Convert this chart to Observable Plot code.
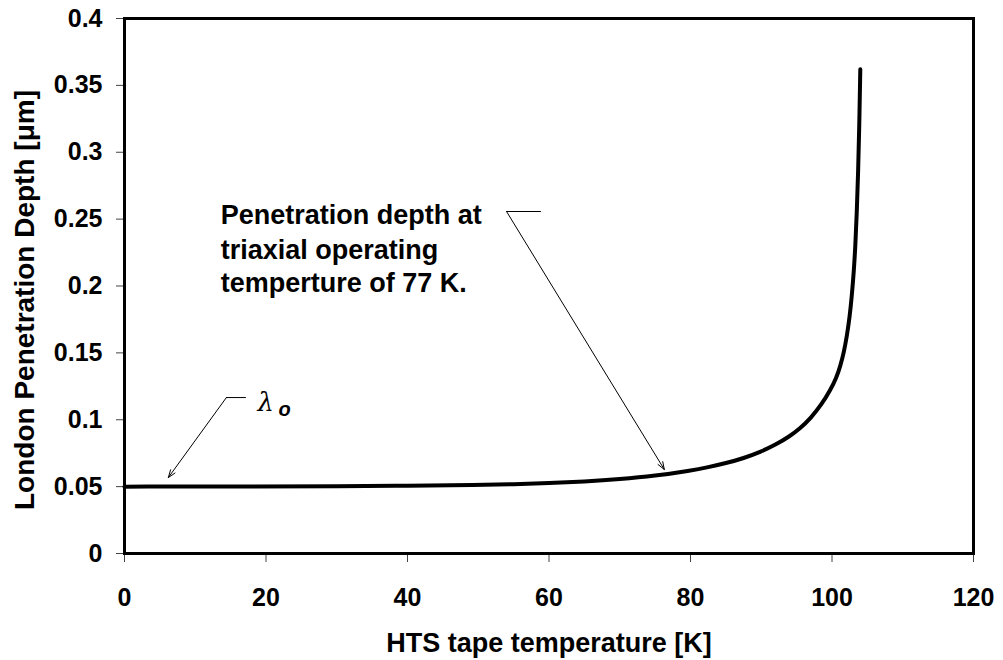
<!DOCTYPE html>
<html>
<head>
<meta charset="utf-8">
<script src="https://cdn.jsdelivr.net/npm/d3@7"></script>
<script src="https://cdn.jsdelivr.net/npm/@observablehq/plot@0.6"></script>
<style>
  html, body { margin: 0; padding: 0; background: #fff; }
  #chart svg { display: block; }
</style>
</head>
<body>
<div id="chart"></div>
<script>
// Curve
const temperatures = [0, 20, 30, 40, 50, 55, 60, 65, 70, 75, 80, 82.5, 85, 87.5, 90, 92, 94, 95.5, 97, 98.5, 99.8, 100.6, 101.2, 101.7, 102.1, 102.5, 102.8, 103.1, 103.3, 103.5, 103.7, 103.85, 104.0];
const depths       = [0.05, 0.0501, 0.0503, 0.0506, 0.0513, 0.0518, 0.0526, 0.0538, 0.0555, 0.0580, 0.0620, 0.0645, 0.0675, 0.0712, 0.0762, 0.0812, 0.0875, 0.0935, 0.1012, 0.1112, 0.1225, 0.1312, 0.1405, 0.1510, 0.1625, 0.1770, 0.1925, 0.2120, 0.2300, 0.2540, 0.2860, 0.3180, 0.3620];

// Axis ticks
const xTicks = [0, 20, 40, 60, 80, 100, 120];
const yTicks = [0, 0.05, 0.1, 0.15, 0.2, 0.25, 0.3, 0.35, 0.4];

// Annotation texts
const xTitle = "HTS tape temperature [K]";
const yTitle = "London Penetration Depth [μm]";
const noteLines = ["Penetration depth at", "triaxial operating", "temperture of 77 K."];
const noteT = [13.6, 13.6, 13.6];
const noteV = [0.2527, 0.2266, 0.2019];
// leaders: [T, depth]
const noteLeaderT = [58.8, 54.0, 76.3];
const noteLeaderV = [0.2557, 0.2557, 0.0628];
const lamLeaderT = [17.1, 14.4, 6.2];
const lamLeaderV = [0.1166, 0.1166, 0.0568];
const lamLabelT = [18.8];
const lamLabelV = [0.1125];

const curve = temperatures.map((t, i) => ({t, v: depths[i]}));
const font = "'Liberation Sans', Arial, sans-serif";

const chart = Plot.plot({
  width: 1003,
  height: 660,
  marginLeft: 124,
  marginRight: 30,
  marginTop: 18,
  marginBottom: 107,
  style: {fontFamily: font, fontWeight: "bold", fontSize: "25px", background: "#fff", color: "#000", overflow: "visible"},
  x: {domain: [0, 120]},
  y: {domain: [0, 0.4]},
  marks: [
    Plot.axisX({ticks: xTicks, tickSize: 9, tickPadding: 26, label: null, fontSize: 25, fontWeight: "bold", stroke: "#444", tickFormat: d => String(d)}),
    Plot.axisY({ticks: yTicks, tickSize: 8, tickPadding: 14, label: null, fontSize: 25, fontWeight: "bold", stroke: "#444", tickFormat: d => String(+d.toFixed(2))}),
    Plot.frame({stroke: "#000", strokeWidth: 3}),
    Plot.line(curve, {x: "t", y: "v", stroke: "#000", strokeWidth: 4, curve: "basis"}),
    // note leader
    Plot.line([0, 1], {x: i => noteLeaderT[i], y: i => noteLeaderV[i], stroke: "#000", strokeWidth: 1}),
    Plot.arrow([0], {x1: () => noteLeaderT[1], y1: () => noteLeaderV[1], x2: () => noteLeaderT[2], y2: () => noteLeaderV[2], stroke: "#000", strokeWidth: 1, headLength: 12, headAngle: 40}),
    // lambda leader
    Plot.line([0, 1], {x: i => lamLeaderT[i], y: i => lamLeaderV[i], stroke: "#000", strokeWidth: 1}),
    Plot.arrow([0], {x1: () => lamLeaderT[1], y1: () => lamLeaderV[1], x2: () => lamLeaderT[2], y2: () => lamLeaderV[2], stroke: "#000", strokeWidth: 1, headLength: 12, headAngle: 40}),
    Plot.text(noteLines, {x: (d, i) => noteT[i], y: (d, i) => noteV[i], text: d => d, textAnchor: "start", fontSize: 27, fontWeight: "bold", fill: "#000"}),
    Plot.text(["λ"], {x: () => lamLabelT[0], y: () => lamLabelV[0], textAnchor: "start", fontSize: 26, fontStyle: "italic", fontWeight: "normal", fontFamily: "'DejaVu Serif', serif", fill: "#000"}),
    Plot.text(["o"], {x: () => lamLabelT[0], y: () => lamLabelV[0], dx: 21, dy: 7, textAnchor: "start", fontSize: 20, fontStyle: "italic", fontWeight: "bold", fill: "#000"}),
    Plot.text([xTitle], {frameAnchor: "bottom", dy: 90, textAnchor: "middle", lineAnchor: "middle", fontSize: 27, fontWeight: "bold", fill: "#000"}),
    Plot.text([yTitle], {frameAnchor: "left", dx: -99, dy: 14, rotate: -90, textAnchor: "middle", lineAnchor: "middle", fontSize: 28, fontWeight: "bold", fill: "#000"})
  ]
});
document.getElementById("chart").appendChild(chart);
</script>
</body>
</html>
